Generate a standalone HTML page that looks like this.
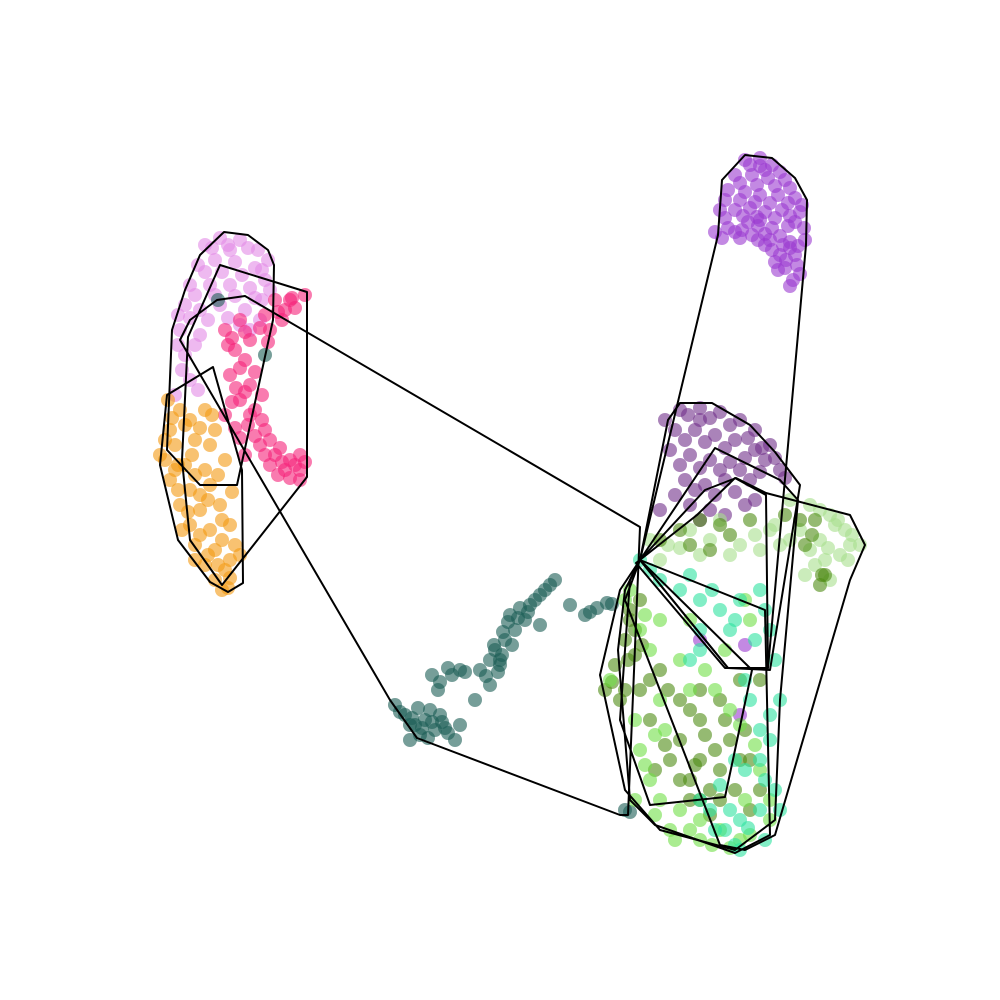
<!DOCTYPE html>
<html><head><meta charset="utf-8">
<style>html,body{margin:0;padding:0;background:#fff;}svg{display:block;}</style>
</head><body>
<svg id="chart" width="1000" height="1000" viewBox="0 0 1000 1000" xmlns="http://www.w3.org/2000/svg">
<rect width="1000" height="1000" fill="#fff"/>
<g id="points"></g>
<g id="hulls"></g>
</svg>
<script>
const clusterNames = ["purple-top","violet","deep-pink","orange","dark-teal","dark-purple","light-green","dark-green","lime","seafoam"];
const clusterColors = ["#9b3bd1","#e28be6","#f5237a","#f39a12","#1a5e55","#71308a","#a9df8e","#4e8c14","#72e048","#2ee3a0"];
const ptsPurpleTop = [[745,160],[760,158],[772,165],[735,175],[752,175],[768,178],[785,180],[728,190],[745,192],[760,195],[778,195],[795,198],[720,210],[735,210],[750,208],[765,212],[782,210],[800,212],[715,232],[728,228],[742,230],[758,226],[772,228],[788,226],[804,228],[740,238],[770,240],[790,242],[780,255],[795,255],[785,268],[778,270],[793,280],[790,248],[760,220],[748,222],[740,715],[745,645],[700,640],[760,166],[795,222],
[750,165],[765,170],[780,172],[740,183],[757,185],[775,186],[790,188],[725,200],[740,200],[755,202],[770,203],[788,203],[802,205],[725,218],[743,216],[757,217],[775,218],[790,216],[805,240],[722,238],[735,232],[752,235],[765,234],[780,236],[798,246],[772,250],[786,260],[797,265],[775,262],[800,274],[790,286],[783,245],[765,245],[758,240]];
const ptsViolet = [[205,245],[220,238],[240,240],[258,250],[268,260],[198,265],[215,260],[235,262],[255,268],[190,285],[210,285],[230,285],[250,288],[265,280],[185,305],[200,310],[220,305],[245,310],[180,330],[200,335],[185,355],[190,380],[175,395],[260,320],[240,325],[230,250],[262,300],[178,345],
[212,248],[228,245],[248,248],[262,270],[205,272],[222,272],[242,275],[195,295],[215,295],[235,296],[255,298],[270,290],[190,318],[208,320],[228,318],[178,315],[195,345],[182,370],[198,390],[250,330]];
const ptsDeepPink = [[275,300],[290,300],[305,295],[282,320],[270,330],[240,320],[225,330],[250,340],[235,350],[245,360],[230,375],[250,385],[240,400],[255,410],[248,425],[265,430],[260,445],[275,455],[290,460],[300,470],[285,470],[270,465],[245,455],[225,415],[300,455],[262,395],[285,310],[265,315],[232,338],[290,478],
[295,308],[278,312],[260,328],[245,332],[228,345],[240,368],[255,372],[236,388],[245,392],[232,402],[250,415],[262,420],[240,438],[255,436],[270,440],[280,448],[295,465],[305,462],[282,462],[265,455],[278,475],[300,480],[235,428],[268,342],[292,298]];
const ptsOrange = [[168,400],[180,410],[170,430],[190,420],[205,410],[215,430],[195,440],[175,445],[165,460],[185,465],[205,470],[225,460],[170,480],[190,490],[210,485],[180,505],[200,510],[220,505],[190,525],[210,530],[230,525],[195,545],[215,550],[235,545],[205,565],[225,570],[215,580],[228,588],[240,555],[178,465],[160,455],[200,495],
[172,418],[185,425],[200,428],[210,445],[192,455],[218,475],[178,490],[195,475],[208,500],[188,512],[222,520],[200,535],[182,530],[222,540],[208,555],[230,560],[218,565],[195,560],[230,578],[222,590],[165,440],[175,470],[212,415],[232,492]];
const ptsTeal = [[395,705],[405,715],[415,725],[425,720],[435,730],[420,735],[440,715],[455,740],[460,725],[430,710],[438,690],[432,675],[448,668],[465,672],[480,670],[490,685],[500,665],[495,650],[505,640],[515,630],[525,620],[510,615],[520,608],[535,600],[545,590],[555,580],[540,625],[570,605],[585,615],[597,608],[607,603],[475,700],[265,355],[218,300],[625,810],[630,812],[410,740],[490,660],[502,655],[410,725],[448,733],
[400,712],[412,718],[422,728],[432,722],[445,728],[428,738],[418,708],[442,722],[503,632],[508,622],[518,618],[528,612],[540,595],[550,585],[498,672],[486,676],[494,645],[500,660],[512,645],[530,605],[460,670],[452,675],[440,682],[612,604],[590,612]];
const ptsDarkPurple = [[680,410],[700,408],[720,412],[740,420],[755,430],[770,445],[675,430],[695,430],[715,435],[735,440],[755,450],[670,450],[690,455],[710,460],[730,462],[780,470],[685,480],[705,485],[725,480],[750,480],[690,505],[660,510],[710,510],[745,505],[765,460],[700,420],
[688,415],[710,418],[730,425],[748,438],[762,448],[775,458],[685,440],[705,442],[725,448],[745,458],[680,465],[700,468],[720,470],[740,470],[760,472],[785,478],[695,490],[715,495],[735,492],[675,495],[700,520],[725,515],[755,500],[665,420]];
const ptsLightGreen = [[790,500],[810,505],[830,515],[845,530],[860,545],[800,530],[820,540],[840,555],[780,545],[760,550],[740,545],[700,555],[680,548],[660,560],[815,565],[830,580],[650,540],[770,530],[720,520],[850,545],[835,525],
[820,510],[838,520],[852,535],[828,548],[848,560],[810,550],[790,540],[775,525],[755,535],[730,555],[710,540],[690,530],[668,545],[805,575],[825,560]];
const ptsDarkGreen = [[700,520],[720,525],[690,545],[710,550],[800,520],[805,545],[825,575],[820,585],[640,600],[630,620],[625,640],[635,655],[615,665],[605,690],[620,700],[640,690],[660,670],[650,720],[680,740],[700,760],[690,780],[710,790],[720,770],[740,760],[760,790],[730,740],[700,720],[680,700],[720,700],[740,680],[760,680],[815,520],[630,610],[670,760],
[680,530],[660,540],[730,535],[750,520],[785,515],[812,535],[822,575],[635,630],[642,645],[628,660],[612,682],[625,690],[650,680],[668,690],[690,710],[705,735],[715,750],[695,765],[680,780],[700,800],[720,800],[735,790],[750,760],[745,730],[665,745],[655,770],[690,800],[710,815],[750,810],[725,720],[700,690]];
const ptsLime = [[625,600],[640,630],[650,650],[660,700],[665,730],[640,750],[650,780],[660,800],[680,810],[700,820],[720,830],[740,840],[700,840],[670,830],[690,690],[705,670],[725,650],[730,710],[755,745],[745,800],[635,800],[660,620],[750,620],[610,680],[770,820],
[630,590],[645,615],[635,720],[645,765],[655,815],[675,840],[690,830],[712,845],[730,848],[750,835],[680,660],[715,690],[740,725],[760,770],[770,800],[655,735],[690,620],[745,600]];
const ptsSeafoam = [[640,560],[660,580],[680,590],[700,600],[720,610],[740,600],[760,590],[765,610],[770,630],[780,700],[770,740],[760,760],[775,790],[760,810],[740,820],[725,830],[765,840],[710,810],[745,770],[700,650],[730,630],[735,845],[750,700],
[650,570],[690,575],[712,590],[735,620],[755,640],[775,660],[770,715],[765,780],[780,810],[748,828],[730,810],[715,830],[740,850],[700,630],[690,660],[745,680],[760,730],[720,785],[700,800],[735,760]];
const clusterPoints = [ptsPurpleTop,ptsViolet,ptsDeepPink,ptsOrange,ptsTeal,ptsDarkPurple,ptsLightGreen,ptsDarkGreen,ptsLime,ptsSeafoam];

const hullPurpleTop = [[745,155],[772,158],[795,178],[807,200],[806,245],[768,668],[728,668],[640,560],[718,235],[722,180]];
const hullViolet = [[224,232],[248,235],[268,250],[274,265],[273,320],[237,485],[200,485],[167,450],[172,330],[185,290],[200,255]];
const hullDeepPink = [[220,265],[307,292],[307,477],[222,585],[190,540],[182,460],[188,337]];
const hullOrange = [[213,367],[242,470],[243,583],[228,592],[210,582],[178,540],[160,465],[167,395]];
const hullTeal = [[217,300],[245,296],[640,527],[628,815],[620,815],[417,738],[390,700],[180,340],[190,320]];
const hullDarkPurple = [[680,403],[712,403],[750,425],[775,452],[800,485],[770,670],[728,668],[640,560],[668,420]];
const hullLightGreen = [[736,478],[766,493],[850,515],[865,545],[850,580],[775,835],[745,850],[720,845],[625,600],[640,560],[705,490]];
const hullDarkGreen = [[715,448],[780,480],[798,500],[780,700],[775,820],[735,850],[660,830],[625,790],[600,675],[620,590],[640,560]];
const hullLime = [[640,560],[765,610],[770,835],[735,853],[655,825],[630,800],[618,650],[625,590]];
const hullSeafoam = [[640,560],[752,670],[725,797],[650,805],[620,720],[630,580]];
const hullInner = [[636,563],[697,515],[735,478],[766,495],[768,668],[725,668]];
const clusterHulls = [hullPurpleTop,hullViolet,hullDeepPink,hullOrange,hullTeal,hullDarkPurple,hullLightGreen,hullDarkGreen,hullLime,hullSeafoam,hullInner];

const xDomain = [0,1000], yDomain = [0,1000];
function xScale(v){ return (v - xDomain[0]) / (xDomain[1]-xDomain[0]) * 1000; }
function yScale(v){ return (v - yDomain[0]) / (yDomain[1]-yDomain[0]) * 1000; }

const NS = "http://www.w3.org/2000/svg";
const pg = document.getElementById("points");
clusterPoints.forEach((pts, ci) => {
  const g = document.createElementNS(NS, "g");
  
  
  pts.forEach(p => {
    const c = document.createElementNS(NS, "circle");
    c.setAttribute("cx", xScale(p[0]));
    c.setAttribute("cy", yScale(p[1]));
    c.setAttribute("r", 7);
    c.setAttribute("fill", clusterColors[ci]);
    c.setAttribute("fill-opacity", 0.6);
    
    
    g.appendChild(c);
  });
  pg.appendChild(g);
});
const hg = document.getElementById("hulls");
clusterHulls.forEach((h, hi) => {
  const poly = document.createElementNS(NS, "polygon");
  poly.setAttribute("points", h.map(p => xScale(p[0]) + "," + yScale(p[1])).join(" "));
  poly.setAttribute("fill", "none");
  poly.setAttribute("stroke", "#000");
  poly.setAttribute("stroke-width", 2);
  poly.setAttribute("stroke-linejoin", "round");
  
  
  hg.appendChild(poly);
});
</script>
</body></html>
